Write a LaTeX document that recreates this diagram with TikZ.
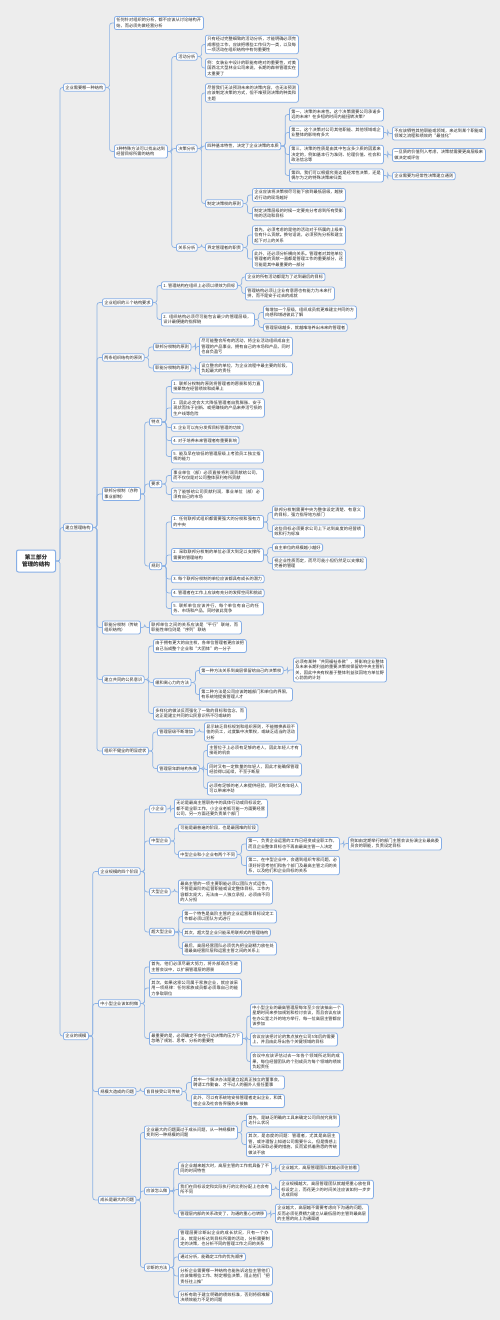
\documentclass[tikz,border=0pt]{standalone}
\usepackage{fontspec}
\setmainfont{Noto Sans CJK SC}
\XeTeXlinebreaklocale "zh"
\XeTeXlinebreakskip = 0pt plus 1pt
\definecolor{edgeblue}{HTML}{8CB2E4}
\definecolor{bordblue}{HTML}{86AEE6}
\definecolor{paper}{HTML}{EDEDED}

\begin{document}
\begin{tikzpicture}[x=1pt, y=-1pt,
    box/.style={draw=bordblue, line width=0.8pt, fill=white, rounded corners=2pt, anchor=west, inner xsep=2pt, inner ysep=1.8pt, font=\fontsize{4.2}{5.5}\selectfont, text=black!85},
    tag/.style={box},
    card/.style={box, text width=#1pt, align=left},
    topic/.style={box, line width=1pt, font=\fontsize{5.6}{7.5}\selectfont\bfseries, align=center, minimum width=39pt, minimum height=22pt},
    link/.style={draw=edgeblue, line width=0.7pt, rounded corners=2.5pt}
  ]
  \fill[paper] (0,0) rectangle (500,1320);
  \useasboundingbox (0,0) rectangle (500,1320);

  % Nodes
  \node (root) [topic] at (16,561) {第三部分\\管理的结构};

  \node (s1) [tag] at (63,87.5) {企业需要哪一种结构};
  \node (s2) [tag] at (63,527.5) {建立管理结构};
  \node (s3) [tag] at (63,1036) {企业的规模};

  % 企业需要哪一种结构
  \node (a1) [card=85] at (114,23) {任何针对组织的分析，都不应该从讨论结构开始，而必须先做经营分析};
  \node (a2) [card=49] at (114,151.5) {3种特殊方法可以找出达到经营目标所需的结构};
  \node (b1) [tag] at (176,56.5) {活动分析};
  \node (b2) [tag] at (176,148.5) {决策分析};
  \node (b3) [tag] at (176,247.5) {关系分析};
  \node (c1) [card=89] at (205,44.5) {只有经过完整细致的活动分析，才能明确必须完成哪些工作，应该把哪些工作归为一类，以及每一项活动在组织结构中有何重要性};
  \node (c2) [card=89] at (205,68) {例：女装业中设计的职能有绝对的重要性，对美国西北大型林业公司来说，长期的森林管理实在太重要了};
  \node (c3) [card=89] at (205,93) {尽管我们无法预测未来的决策内容，也无法预测应该制定决策的方式，但不难预测决策的种类和主题};
  \node (c4) [tag] at (205,146) {四种基本特性，决定了企业决策的本质};
  \node (c5) [tag] at (205,203.5) {制定决策权的原则};
  \node (c6) [tag] at (205,247.5) {界定管理者的职责};
  \node (d1) [card=90] at (289,114.5) {第一，决策的未来性。这个决策需要公司承诺多远的未来？在多短的时间内能扭转决策？};
  \node (d2) [card=90] at (289,132.5) {第二，这个决策对公司其他职能、其他领域或企业整体的影响有多大};
  \node (d3) [card=90] at (289,154.5) {第三，决策的性质是由其中包含多少质的因素来决定的，例如基本行为准则、伦理价值、社会和政治信念等};
  \node (d4) [card=90] at (289,175.5) {第四，我们可以根据究竟这是经常性决策，还是偶尔为之的特殊决策来归类};
  \node (e1) [card=89] at (392,133.5) {不应该牺牲其他职能或领域，来达到某个职能或领域之流程和绩效的“最佳化”};
  \node (e2) [card=89] at (392,155) {一旦质的价值列入考虑，决策就需要更高层级来做决定或评估};
  \node (e3) [tag] at (392,176) {企业需要为经常性决策建立通则};
  \node (d5) [card=89] at (252,195) {企业应该将决策权尽可能下放到最低层级，越接近行动的现场越好};
  \node (d6) [card=89] at (252,213.5) {制定决策层级的时候一定要充分考虑到所有受影响的活动和目标};
  \node (d7) [card=89] at (252,235) {首先，必须考虑的是他的活动对于所属的上级单位有什么贡献。换句话说，必须预先分析和建立起下对上的关系};
  \node (d8) [card=89] at (252,259) {此外，还必须分析横向关系。管理者对其他单位管理者的贡献一直都是管理工作的重要部分，还可能是其中最重要的一部分};

  % 建立管理结构
  \node (f1) [tag] at (102,302.5) {企业组织的三个结构要求};
  \node (f2) [tag] at (102,357.5) {两条组织结构的原则};
  \node (f3) [card=34] at (102,494) {联邦分权制（亦称事业部制）};
  \node (f4) [card=34] at (102,627.5) {职能分权制（传统组织结构）};
  \node (f5) [tag] at (102,679.5) {建立共同的公民意识};
  \node (f6) [tag] at (102,751) {组织不健全的明显症状};
  \node (g1) [tag] at (161,285.5) {1. 管理结构在组织上必须以绩效为目标};
  \node (g2) [card=89] at (161,319.5) {2. 组织结构必须尽可能包含最少的管理层级，设计最便捷的指挥链};
  \node (h1) [tag] at (245,277) {企业的所有活动都是为了达到最后的目标};
  \node (h2) [card=85] at (245,293.5) {管理结构必须让企业有意愿也有能力为未来打拼，而不是安于过去的成就};
  \node (h3) [card=89] at (263,312.5) {每增加一个层级，组织成员就更难建立共同的方向感和增进彼此了解};
  \node (h4) [tag] at (263,327.5) {管理层级越多，就越难培养出未来的管理者};
  \node (g3) [tag] at (153,347) {联邦分权制的原则};
  \node (g4) [tag] at (153,368) {职能分权制的原则};
  \node (h5) [card=89] at (199,346.5) {尽可能整合所有的活动，将企业活动组织成自主管理的产品事业，拥有自己的市场和产品，同时也自负盈亏};
  \node (h6) [card=89] at (199,368.5) {设立整合的单位，为企业流程中最主要的阶段，负起最大的责任};
  \node (g5) [tag] at (149,422) {特点};
  \node (g6) [tag] at (149,484) {要求};
  \node (g7) [tag] at (149,566) {规则};
  \node (h7) [card=88] at (171,386.5) {1. 联邦分权制的原则将管理者的愿景和努力直接聚焦在经营绩效和成果上};
  \node (h8) [card=89] at (171,408) {2. 因此必定会大大降低管理者自我膨胀、安于现状而怯于创新、或把赚钱的产品来养活亏损的生产线等危险};
  \node (h9) [tag] at (171,427.5) {3. 企业可以充分发挥目标管理的功效};
  \node (h10) [tag] at (171,440.5) {4. 对于培养未来管理者有重要影响};
  \node (h11) [card=88] at (171,456.5) {5. 能及早在较低的管理层级上考验员工独立指挥的能力};
  \node (h12) [card=88] at (171,475.5) {事业单位（部）必须直接将利润贡献给公司，而不仅仅是对公司整体获利有所贡献};
  \node (h13) [card=88] at (171,494.5) {为了能够给公司贡献利润，事业单位（部）必须有自己的市场};
  \node (h14) [card=88] at (171,522) {1. 任何联邦式组织都需要强大的分权和强有力的中央};
  \node (h15) [card=88] at (171,555) {2. 采取联邦分权制的单位必须大到足以支撑所需要的管理结构};
  \node (h16) [tag] at (171,579) {3. 每个联邦分权制的单位应该都具有成长的潜力};
  \node (h17) [tag] at (171,593) {4. 管理者在工作上应该有充分的发挥空间和挑战};
  \node (h18) [card=88] at (171,608.5) {5. 联邦单位应该并行，每个单位有自己的任务、市场和产品，同时彼此竞争};
  \node (i1) [card=88] at (272,512.5) {联邦分权制需要中央为整体设定清楚、有意义的目标，强力指导地方部门};
  \node (i2) [card=88] at (272,531.5) {这些目标必须要求公司上下达到高度的经营绩效和行为标准};
  \node (i3) [tag] at (272,547.5) {自主单位的规模越小越好};
  \node (i4) [card=90] at (272,563.5) {视企业性质而定，而尽可能小但仍然足以支撑起完善的管理};
  \node (g8) [card=88] at (149,627.5) {联邦单位之间的关系应该是“平行”联结，而职能性单位则是“序列”联结};
  \node (g9) [card=89] at (153,646) {由于拥有更大的自主权，各单位管理者更应该把自己当成整个企业和“大团体”的一分子};
  \node (g10) [tag] at (153,682.5) {缓和离心力的方法};
  \node (g11) [card=89] at (153,713.5) {多样化的做法反而强化了一致的目标和信念，而这正是建立共同的公民意识所不可或缺的};
  \node (h19) [tag] at (199,670.5) {第一种方法关系到高层保留给自己的决策权};
  \node (h20) [card=89] at (199,694.5) {第二种方法是公司应该跨越部门和单位的界限，有系统地提拔管理人才};
  \node (i5) [card=89] at (293,670) {必须有某种“共同福祉条款”，将影响企业整体及未来长期利益的重要决策权保留给中央主管机关，因此中央有权基于整体利益驳回地方单位野心勃勃的计划};
  \node (g12) [tag] at (157,732) {管理层级不断增加};
  \node (g13) [tag] at (157,768.5) {管理层年龄结构失衡};
  \node (h21) [card=89] at (204,732) {显示缺乏目标规划和组织原则，不能撤换表现不佳的员工，过度集中决策权，或缺乏适当的活动分析};
  \node (h22) [card=90] at (207,750.5) {主管位子上必须有足够的老人，因此年轻人才有接班的机会};
  \node (h23) [card=90] at (207,769.5) {同时又有一定数量的年轻人，因此才能确保管理经验得以延续，不至于断层};
  \node (h24) [card=90] at (207,788.5) {必须有足够的老人来提供经验，同时又有年轻人可以带来冲劲};

  % 企业的规模
  \node (j1) [tag] at (98,871.5) {企业规模的四个阶段};
  \node (j2) [tag] at (98,1003.5) {中小型企业该如何做};
  \node (j3) [tag] at (98,1091.5) {规模大造成的问题};
  \node (j4) [tag] at (98,1200) {成长是最大的问题};
  \node (k1) [tag] at (149,809) {小企业};
  \node (k2) [tag] at (149,841) {中型企业};
  \node (k3) [tag] at (149,892) {大型企业};
  \node (k4) [tag] at (149,932) {超大型企业};
  \node (l1) [card=89] at (174,808.5) {无论是最高主管职务中的具体行动或目标设定，都不是全职工作，小企业老板可能一方面要经营公司，另一方面还要负责某个部门};
  \node (l2) [tag] at (178,828) {可能是最普遍的阶段，也是最困难的阶段};
  \node (l3) [tag] at (178,854.5) {中型企业和小企业有两个不同};
  \node (m1) [card=89] at (246,844) {第一，负责企业运营的工作已经变成全职工作，而且企业整体目标也不再由最高主管一人决定};
  \node (m2) [card=89] at (246,865.5) {第二，在中型企业中，会遇到组织专家问题，必须好好思考他们和各个部门及最高主管之间的关系，以及他们和企业目标的关系};
  \node (n1) [card=89] at (348,843.5) {例如由定期举行的部门主管会议扮演企业最高委员会的职能，负责设定目标};
  \node (l4) [card=90] at (178,892) {最高主管的一项主要职能必须以团队方式运作，不管是高阶的运营职能或设定整体目标，工作内容都太庞大，无法由一人独立承担，必须由不同的人分担};
  \node (l5) [card=90] at (182,916.5) {第一个特色是高阶主管的企业运营和目标设定工作都必须以团队方式进行};
  \node (l6) [tag] at (182,932.5) {其次，超大型企业只能采用联邦式的管理结构};
  \node (l7) [card=90] at (182,948.5) {最后，高层经营团队必须优先把全副精力放在处理最高经营阶层和运营主管之间的关系上};
  \node (k5) [card=88] at (149,967) {首先，他们必须尽最大努力，将外部观点引进主管会议中，以扩展管理层的愿景};
  \node (k6) [card=88] at (149,988) {其次，如果这家公司属于家族企业，就应该采用一项规律：任何家族成员都必须靠自己的能力争取职位};
  \node (k7) [card=89] at (149,1038.5) {最重要的是，必须确定不会在行动决策的压力下忽略了规划、思考、分析的重要性};
  \node (l8) [card=89] at (250,1016) {中小型企业的最高管理层每年至少应该抽出一个星期时间来参加规划和检讨会议，而且会议应该在办公室之外的地方举行，每一位高层主管都应该参加};
  \node (l9) [card=83] at (250,1039.5) {会议应该把讨论的焦点放在公司5年后的需要上，并且由此导出各个关键领域的目标};
  \node (l10) [card=89] at (250,1061.5) {会议中应该评估过去一年各个领域所达到的成果，每位经营团队的个别成员为每个领域的绩效负起责任};
  \node (k8) [tag] at (144,1091.5) {盲目接受公司传统};
  \node (l11) [card=89] at (191,1082.5) {其中一个解决办法是建立起真正独立的董事会，聘请工作勤奋、才干过人的圈外人担任董事};
  \node (l12) [card=89] at (191,1101) {此外，可以有系统地安排管理者走出企业，和其他企业及社会各界服务多接触};
  \node (k9) [card=89] at (144,1132.5) {企业最大的问题莫过于成长问题，从一种规模转变到另一种规模的问题};
  \node (k10) [tag] at (144,1191) {应该怎么做};
  \node (k11) [tag] at (144,1267.5) {诊断的方法};
  \node (l13) [card=89] at (246,1120.5) {首先，是缺乏明确的工具来确定公司目前究竟到达什么状况};
  \node (l14) [card=89] at (246,1144.5) {其次，是态度的问题：管理者，尤其是高层主管，或许理智上知道公司需要什么，但是情感上却无法采取必要的措施，反而紧抓着熟悉的传统做法不放};
  \node (l15) [card=89] at (178,1168.5) {当企业越来越大时，高层主管的工作就具备了不同的时间特性};
  \node (l16) [card=89] at (178,1189.5) {我们在目标设定和实际执行的比例分配上也会有所不同};
  \node (l17) [tag] at (178,1214) {管理层内部的关系改变了，沟通的重心也转移};
  \node (m3) [tag] at (279,1168) {企业越大，高层管理团队就越必须往前看};
  \node (m4) [card=90] at (279,1189.5) {企业规模越大，高层管理团队就越把重心放在目标设定上，而花更少的时间关注应该如何一步步达成目标};
  \node (m5) [card=89] at (275,1213.5) {企业越大，高层越不需要考虑向下沟通的问题，反而必须花费精力建立从最低层的主管到最高层的主管的向上沟通渠道};
  \node (l18) [card=90] at (178,1238.5) {管理层要诊断出企业的成长状况，只有一个办法，就是分析达到目标所需的活动，分析需要制定的决策，也分析不同的管理工作之间的关系};
  \node (l19) [tag] at (178,1257) {通过分析，能确定工作的优先顺序};
  \node (l20) [card=90] at (178,1276) {分析企业需要哪一种结构也能告诉这些主管他们应该做哪些工作、制定哪些决策，阻止他们“把责任往上推”};
  \node (l21) [card=90] at (178,1297.5) {分析有助于建立明确的绩效标准，否则将很难解决绩效能力不足的问题};

  % Links
  \foreach \p/\c in {root/s1, root/s2, root/s3,
      s1/a1, s1/a2, a2/b1, a2/b2, a2/b3, b1/c1, b1/c2, b2/c3, b2/c4, b2/c5, b3/c6,
      c4/d1, c4/d2, c4/d3, c4/d4, d2/e1, d3/e2, d4/e3, c5/d5, c5/d6, c6/d7, c6/d8,
      s2/f1, s2/f2, s2/f3, s2/f4, s2/f5, s2/f6, f1/g1, f1/g2, g1/h1, g1/h2, g2/h3, g2/h4,
      f2/g3, f2/g4, g3/h5, g4/h6, f3/g5, f3/g6, f3/g7, g5/h7, g5/h8, g5/h9, g5/h10, g5/h11,
      g6/h12, g6/h13, g7/h14, g7/h15, g7/h16, g7/h17, g7/h18, h14/i1, h14/i2, h15/i3, h15/i4,
      f4/g8, f5/g9, f5/g10, f5/g11, g10/h19, g10/h20, h19/i5, f6/g12, f6/g13, g12/h21,
      g13/h22, g13/h23, g13/h24,
      s3/j1, s3/j2, s3/j3, s3/j4, j1/k1, j1/k2, j1/k3, j1/k4, k1/l1, k2/l2, k2/l3, l3/m1, l3/m2,
      m1/n1, k3/l4, k4/l5, k4/l6, k4/l7, j2/k5, j2/k6, j2/k7, k7/l8, k7/l9, k7/l10,
      j3/k8, k8/l11, k8/l12, j4/k9, j4/k10, j4/k11, k9/l13, k9/l14, k10/l15, k10/l16, k10/l17,
      l15/m3, l16/m4, l17/m5, k11/l18, k11/l19, k11/l20, k11/l21}
    \draw [link] (\p.east) -- ++(4,0) |- (\c.west);
\end{tikzpicture}
\end{document}
